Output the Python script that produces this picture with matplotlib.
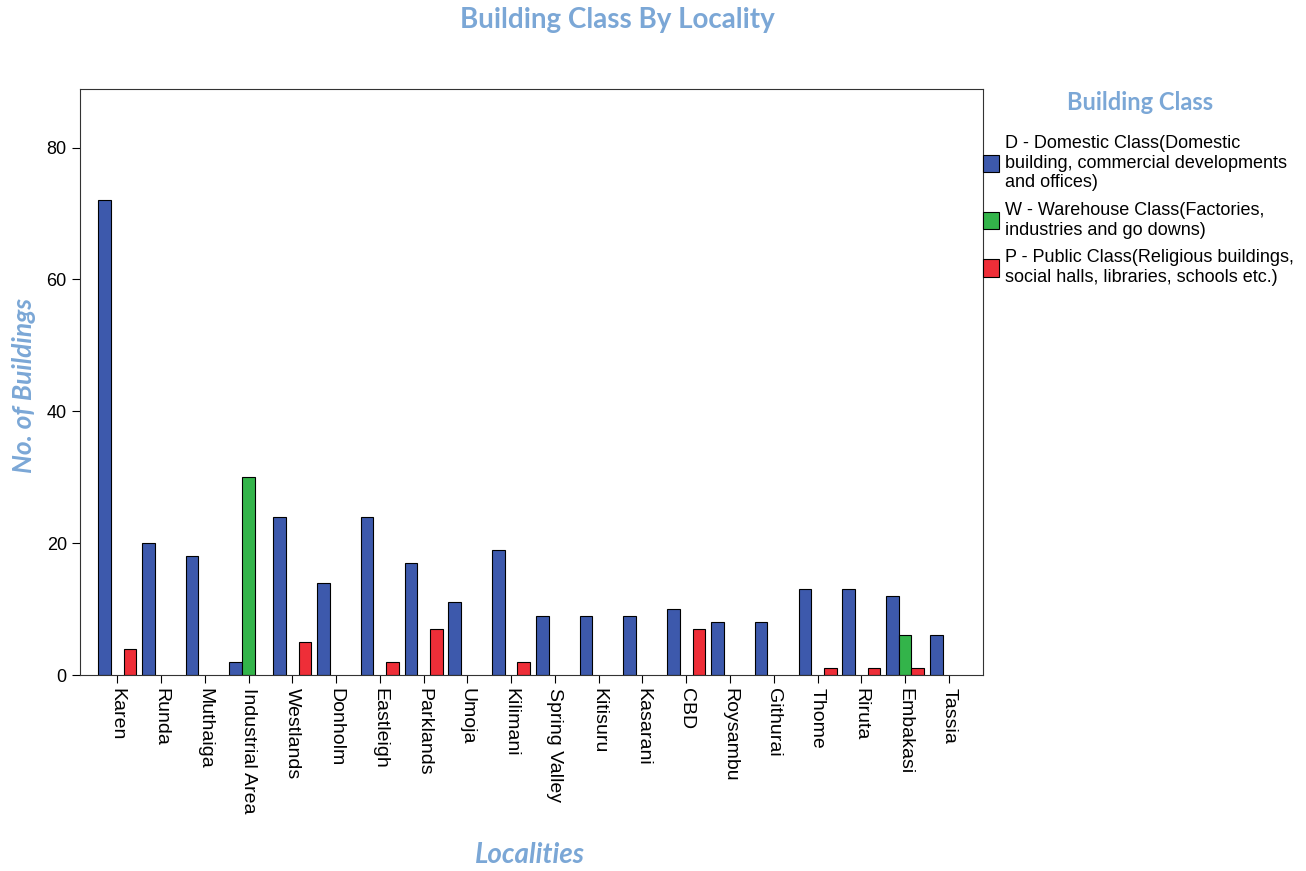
import matplotlib
matplotlib.use("Agg")
import matplotlib.pyplot as plt
from matplotlib.patches import Patch
import numpy as np

localities = ["Karen", "Runda", "Muthaiga", "Industrial Area", "Westlands", "Donholm",
              "Eastleigh", "Parklands", "Umoja", "Kilimani", "Spring Valley", "Kitisuru",
              "Kasarani", "CBD", "Roysambu", "Githurai", "Thome", "Riruta", "Embakasi", "Tassia"]
domestic  = [72, 20, 18, 2, 24, 14, 24, 17, 11, 19, 9, 9, 9, 10, 8, 8, 13, 13, 12, 6]
warehouse = [0, 0, 0, 30, 0, 0, 0, 0, 0, 0, 0, 0, 0, 0, 0, 0, 0, 0, 6, 0]
public    = [4, 0, 0, 0, 5, 0, 2, 7, 0, 2, 0, 0, 0, 7, 0, 0, 1, 1, 1, 0]

class_labels = ["D - Domestic Class(Domestic\nbuilding, commercial developments\nand offices)",
                "W - Warehouse Class(Factories,\nindustries and go downs)",
                "P - Public Class(Religious buildings,\nsocial halls, libraries, schools etc.)"]
colors = ["#3d59ac", "#33b44a", "#ee2e38"]
TITLE_BLUE = "#7ba7d6"

plt.rcParams["font.family"] = ["Liberation Sans", "DejaVu Sans"]

fig = plt.figure(figsize=(13.06, 8.71), dpi=100)
ax = fig.add_axes([80/1306, 1 - 675/871, (983 - 80)/1306, (675 - 89)/871])

x = np.arange(len(localities))
w = 0.29
for off, vals, c in zip((-w, 0, w), (domestic, warehouse, public), colors):
    idx = [i for i, v in enumerate(vals) if v > 0]
    ax.bar(x[idx] + off, [vals[i] for i in idx], w, color=c, edgecolor="black", linewidth=0.8)

ax.set_xlim(-0.85, 19.78)
ax.set_ylim(0, 88.9)
ax.set_yticks([0, 20, 40, 60, 80])
ax.set_xticks(x)
ax.set_xticklabels(localities, rotation=270, ha="center", va="top", fontsize=14)
ax.tick_params(axis="y", labelsize=13, direction="out", length=6)
ax.tick_params(axis="x", direction="out", length=6, pad=3)
for s in ax.spines.values():
    s.set_color("#333333")

fig.text(617/1306, 1 - 20/871, "Building Class By Locality", ha="center", va="center",
         fontsize=20, fontweight="bold", color=TITLE_BLUE, family="Lato")
fig.text(24/1306, 1 - 385/871, "No. of Buildings", ha="center", va="center", rotation=90,
         fontsize=19, fontweight="bold", style="italic", color=TITLE_BLUE, family="Lato")
fig.text(530/1306, 1 - 855/871, "Localities", ha="center", va="center",
         fontsize=20, fontweight="bold", style="italic", color=TITLE_BLUE, family="Lato")
fig.text(1140/1306, 1 - 103/871, "Building Class", ha="center", va="center",
         fontsize=17, fontweight="bold", color=TITLE_BLUE, family="Lato")

handles = [Patch(facecolor=c, edgecolor="black", linewidth=0.8) for c in colors]
fig.legend(handles, class_labels, loc="upper left", bbox_to_anchor=(983/1306, 1 - 135/871),
           frameon=False, fontsize=13, handlelength=0.9, handleheight=1.1, handletextpad=0.3,
           labelspacing=0.6, borderaxespad=0, borderpad=0)

fig.savefig("out.png", dpi=100)
